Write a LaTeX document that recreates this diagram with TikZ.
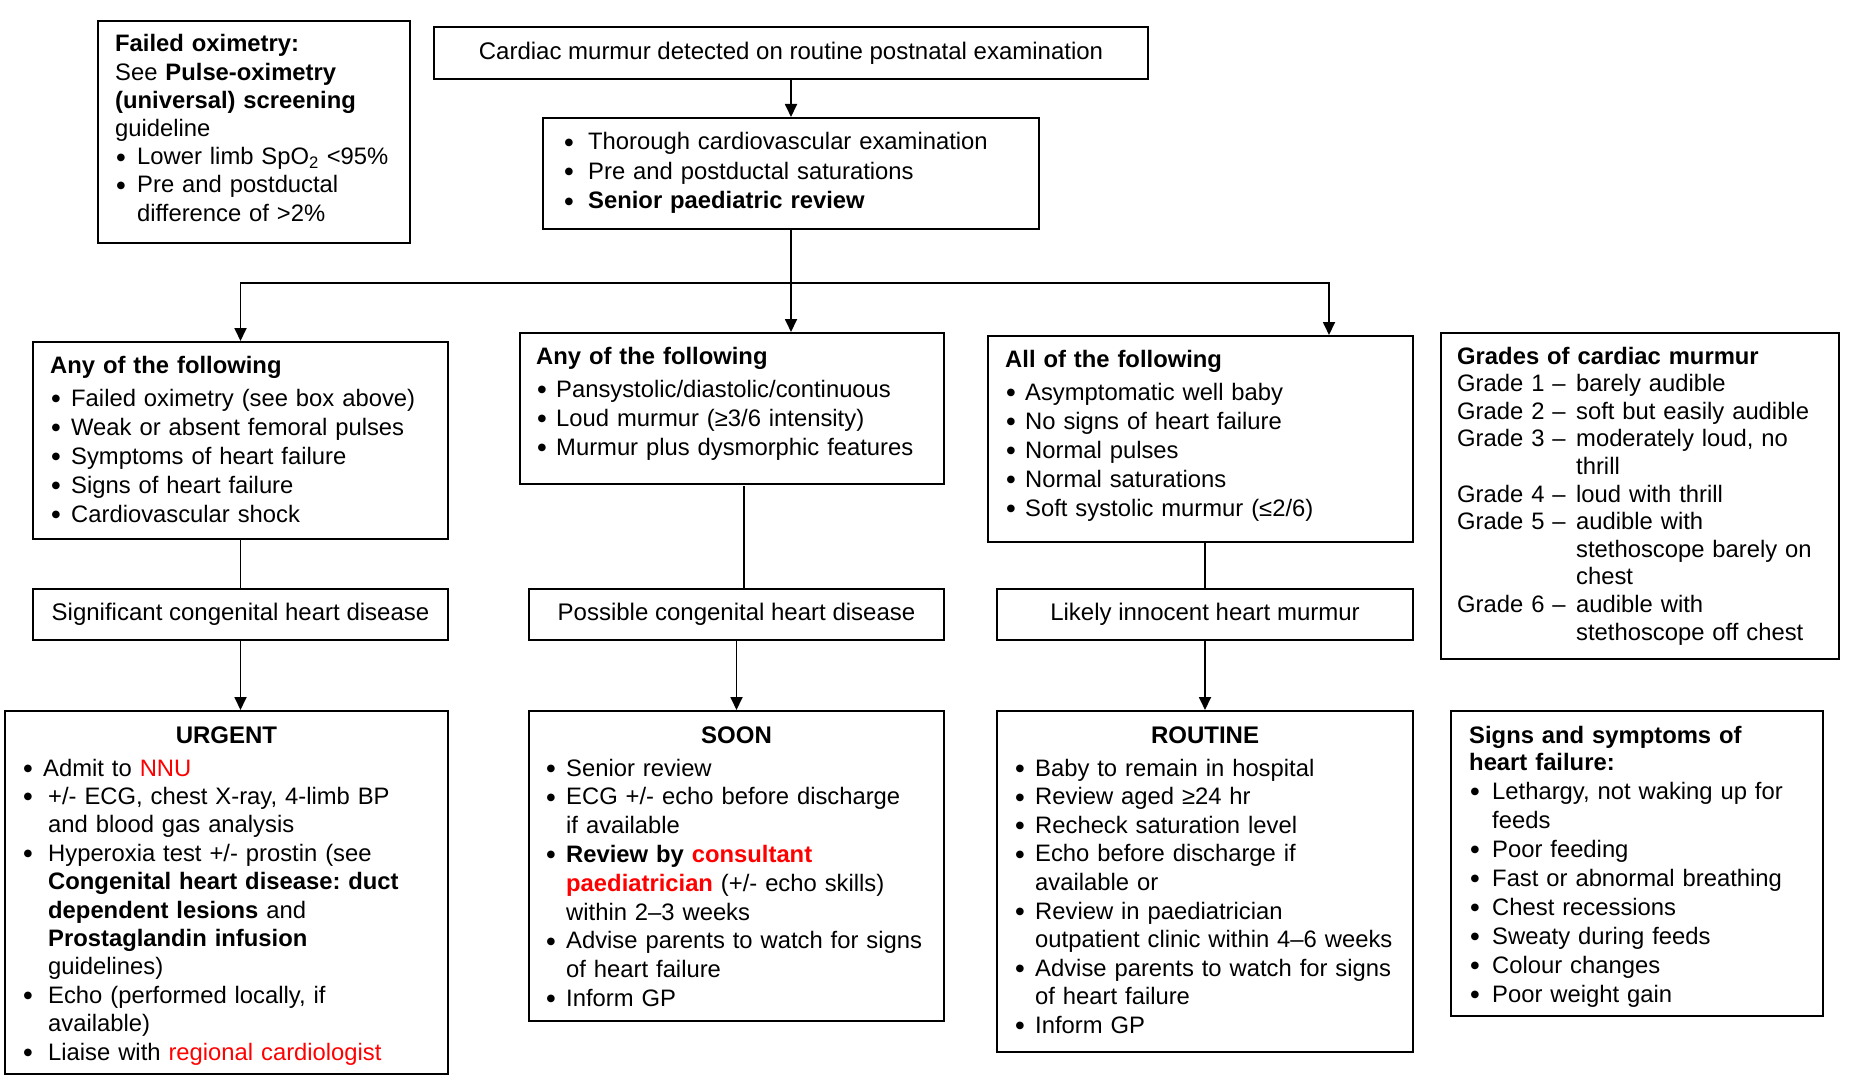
\documentclass[tikz,border=0pt]{standalone}
\usepackage{fontspec}
\setmainfont{Liberation Sans}
\newfontfamily\dotfont{DejaVu Sans}
\usetikzlibrary{arrows.meta,calc}
\frenchspacing
\newlength{\bw}
\newcommand{\mydot}{\raisebox{4.6pt}{\dotfont\fontsize{10pt}{10pt}\selectfont ●}}
\newcommand{\myb}{\makebox[\bw][l]{\hspace{1.5pt}\mydot}}
\newcommand{\myi}{\hspace*{\bw}}
\newcommand{\gr}[1]{\makebox[\bw][l]{Grade #1 –}}
\begin{document}
\begin{tikzpicture}[x=1pt,y=-1pt,
  box/.style={draw, line width=2pt, anchor=north west, inner sep=0pt, align=center, font=\fontsize{24pt}{28.8pt}\selectfont},
  txt/.style={anchor=base west, inner sep=0pt, align=left, text width=460pt, font=\fontsize{23.8pt}{#1}\selectfont\frenchspacing},
  ttl/.style={anchor=base, inner sep=0pt, font=\fontsize{24pt}{28.8pt}\selectfont\bfseries},
  conn/.style={line width=1.8pt},
  arr/.style={line width=1.8pt, -{Triangle[length=13pt,width=12pt]}}]
\fill[white] (0,0) rectangle (1852,1083);
\useasboundingbox (0,0) rectangle (1852,1083);

% boxes
\node[box, minimum width=312pt, minimum height=222pt] (fail) at (97,20) {};
\node[box, minimum width=714pt, minimum height=52pt] (top) at (433,26) {Cardiac murmur detected on routine postnatal examination};
\node[box, minimum width=496pt, minimum height=111pt] (thor) at (542,117) {};
\node[box, minimum width=415pt, minimum height=197pt] (anyL) at (32,341) {};
\node[box, minimum width=424pt, minimum height=151pt] (anyM) at (519,332) {};
\node[box, minimum width=425pt, minimum height=206pt] (all) at (987,335) {};
\node[box, minimum width=398pt, minimum height=326pt] (grades) at (1440,332) {};
\node[box, minimum width=415pt, minimum height=51pt] (sig) at (32,588) {Significant congenital heart disease};
\node[box, minimum width=415pt, minimum height=51pt] (poss) at (528,588) {Possible congenital heart disease};
\node[box, minimum width=416pt, minimum height=51pt] (likely) at (996,588) {Likely innocent heart murmur};
\node[box, minimum width=443pt, minimum height=363pt] (urg) at (4,710) {};
\node[box, minimum width=415pt, minimum height=310pt] (soon) at (528,710) {};
\node[box, minimum width=416pt, minimum height=341pt] (rout) at (996,710) {};
\node[box, minimum width=372pt, minimum height=305pt] (signs) at (1450,710) {};

% texts
\node[txt=28.2pt] (failt) at (115,52) {\setlength{\bw}{22pt}%
\textbf{Failed oximetry:}\\
See \textbf{Pulse-oximetry}\\
\textbf{(universal) screening}\\
guideline\\
\myb Lower limb SpO\textsubscript{2} <95\%\\
\myb Pre and postductal\\
\myi difference of >2\%};

\node[txt=29.5pt] (thort) at (563,150) {\setlength{\bw}{25pt}%
\myb Thorough cardiovascular examination\\
\myb Pre and postductal saturations\\
\myb\textbf{Senior paediatric review}};

\node[txt=29pt] (anyLt) at (50,373) {\setlength{\bw}{21pt}%
\textbf{Any of the following}\\[4pt]
\myb Failed oximetry (see box above)\\
\myb Weak or absent femoral pulses\\
\myb Symptoms of heart failure\\
\myb Signs of heart failure\\
\myb Cardiovascular shock};

\node[txt=29pt] (anyMt) at (536,364) {\setlength{\bw}{20pt}%
\textbf{Any of the following}\\[4pt]
\myb Pansystolic/diastolic/continuous\\
\myb Loud murmur (≥3/6 intensity)\\
\myb Murmur plus dysmorphic features};

\node[txt=29pt] (allt) at (1005,367) {\setlength{\bw}{20pt}%
\textbf{All of the following}\\[4pt]
\myb Asymptomatic well baby\\
\myb No signs of heart failure\\
\myb Normal pulses\\
\myb Normal saturations\\
\myb Soft systolic murmur (≤2/6)};

\node[txt=27.6pt] (gradest) at (1457,364) {\setlength{\bw}{119pt}%
\textbf{Grades of cardiac murmur}\\
\gr{1}barely audible\\
\gr{2}soft but easily audible\\
\gr{3}moderately loud, no\\
\myi thrill\\
\gr{4}loud with thrill\\
\gr{5}audible with\\
\myi stethoscope barely on\\
\myi chest\\
\gr{6}audible with\\
\myi stethoscope off chest};

\node[ttl] (urgtt) at ($(urg.north)+(0,33)$) {URGENT};
\node[txt=28.4pt] (urgt) at (22,776) {\setlength{\bw}{26pt}%
\makebox[21pt][l]{\hspace{1.5pt}\mydot}Admit to \textcolor{red}{NNU}\\
\myb +/- ECG, chest X-ray, 4-limb BP\\
\myi and blood gas analysis\\
\myb Hyperoxia test +/- prostin (see\\
\myi\textbf{Congenital heart disease: duct}\\
\myi\textbf{dependent lesions} and\\
\myi\textbf{Prostaglandin infusion}\\
\myi guidelines)\\
\myb Echo (performed locally, if\\
\myi available)\\
\myb Liaise with \textcolor{red}{regional cardiologist}};

\node[ttl] (soontt) at ($(soon.north)+(0,33)$) {SOON};
\node[txt=28.8pt] (soont) at (545,776) {\setlength{\bw}{21pt}%
\myb Senior review\\
\myb ECG +/- echo before discharge\\
\myi if available\\
\myb\textbf{Review by \textcolor{red}{consultant}}\\
\myi\textbf{\textcolor{red}{paediatrician}} (+/- echo skills)\\
\myi within 2–3 weeks\\
\myb Advise parents to watch for signs\\
\myi of heart failure\\
\myb Inform GP};

\node[ttl] (routtt) at ($(rout.north)+(0,33)$) {ROUTINE};
\node[txt=28.6pt] (routt) at (1014,776) {\setlength{\bw}{21pt}%
\myb Baby to remain in hospital\\
\myb Review aged ≥24 hr\\
\myb Recheck saturation level\\
\myb Echo before discharge if\\
\myi available or\\
\myb Review in paediatrician\\
\myi outpatient clinic within 4–6 weeks\\
\myb Advise parents to watch for signs\\
\myi of heart failure\\
\myb Inform GP};

\node[txt=29pt] (signst) at (1469,743) {\setlength{\bw}{23pt}%
\textbf{Signs and symptoms of}\\[-2pt]
\textbf{heart failure:}\\
\myb Lethargy, not waking up for\\
\myi feeds\\
\myb Poor feeding\\
\myb Fast or abnormal breathing\\
\myb Chest recessions\\
\myb Sweaty during feeds\\
\myb Colour changes\\
\myb Poor weight gain};

% connectors
\draw[arr] (top.south) -- (thor.north);
\path (thor.south) ++(0,53) coordinate (split);
\coordinate (rj) at (1329,281);
\coordinate (mj) at (744,486);
\draw[conn] (thor.south) -- (split);
\draw[arr] (split) -- (split |- anyM.north);
\draw[arr] (split) -| (anyL.north);
\draw[arr] (split) -| (rj |- all.north);
\draw[conn] (anyL.south) -- (sig.north);
\draw[arr] (sig.south) -- (sig.south |- urg.north);
\draw[conn] (mj) -- (mj |- poss.north);
\draw[arr] (poss.south) -- (poss.south |- soon.north);
\draw[conn] (likely.north |- all.south) -- (likely.north);
\draw[arr] (likely.south) -- (rout.north);
\end{tikzpicture}
\end{document}
